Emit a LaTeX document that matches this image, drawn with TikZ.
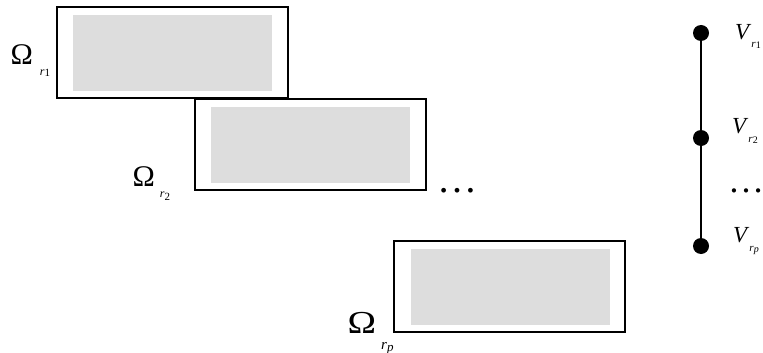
\documentclass[tikz,border=0pt]{standalone}
\usepackage{fontspec}
\setmainfont{Liberation Serif}
\newcommand{\fsz}[1]{\fontsize{#1}{#1}\selectfont}
\definecolor{panelgray}{RGB}{221,221,221}
\begin{document}
\begin{tikzpicture}[x=1pt,y=-1pt,
  outerbox/.style={draw=black, line width=1.2pt, fill=white, anchor=north west,
    inner sep=0pt, outer sep=0pt, minimum width=231pt, minimum height=91pt},
  innerbox/.style={fill=panelgray, draw=none, anchor=north west, inner sep=0pt,
    minimum width=199pt, minimum height=76pt},
  vertex/.style={circle, fill=black, inner sep=0pt, minimum size=16pt},
  lbl/.style={anchor=base west, inner sep=0pt},
  edge/.style={line width=2.2pt}]
\useasboundingbox (0,0) rectangle (763,353);

% subdomain boxes with shaded interiors
\node[outerbox] (b1) at (57,7) {};
\node[innerbox] (i1) at (73,15) {};
\node[outerbox] (b2) at (195,99) {};
\node[innerbox] (i2) at (211,107) {};
\node[outerbox] (b3) at (394,241) {};
\node[innerbox] (i3) at (411,249) {};

% subdomain labels
\node[lbl] (o1) at (10.5,65) {\fsz{30}Ω\hspace{7pt}\raisebox{-11pt}{\fsz{12}\textit{r}\raisebox{-1pt}{\fsz{11}1}}};
\node[lbl] (o2) at (132.5,186) {\fsz{30}Ω\hspace{5pt}\raisebox{-11pt}{\fsz{12}\textit{r}\raisebox{-3pt}{\fsz{11}2}}};
\node[lbl] (o3) at (347.5,333) {\fsz{32}\scalebox{1.2}[1]{Ω}\hspace{5pt}\raisebox{-16pt}{\fsz{15}\textit{r}\raisebox{-2pt}{\fsz{13}\textit{p}}}};

\node[lbl] (d1) at (437,192) {\fsz{40}…};

% chain of vertices
\node[vertex] (v1) at (701,33) {};
\node[vertex] (v2) at (701,138) {};
\node[vertex] (vp) at (701,246) {};
\draw[edge] (v1) -- (v2) -- (vp);

\node[lbl] (l1) at (735,40) {\fsz{23}\textit{V}\raisebox{-8pt}{\fsz{11}\textit{r}\raisebox{-1pt}{\fsz{10}1}}};
\node[lbl] (l2) at (732,133) {\fsz{23}\textit{V}\raisebox{-9pt}{\fsz{11}\textit{r}\raisebox{-1pt}{\fsz{10}2}}};
\node[lbl] (lp) at (733,242) {\fsz{23}\textit{V}\raisebox{-9pt}{\fsz{11}\textit{r}\raisebox{-1pt}{\fsz{10}\textit{p}}}};

\node[lbl] (d2) at (728,192) {\fsz{36}…};
\end{tikzpicture}
\end{document}
